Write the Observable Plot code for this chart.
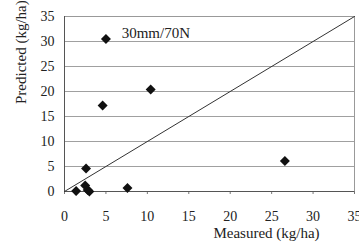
<!DOCTYPE html>
<html>
<head>
<meta charset="utf-8">
<script src="https://cdn.jsdelivr.net/npm/d3@7"></script>
<script src="https://cdn.jsdelivr.net/npm/@observablehq/plot@0.6"></script>
<style>
  html, body { margin: 0; padding: 0; background: #fff; }
  svg, svg text { font-family: "Liberation Serif", "Times New Roman", serif !important; }
</style>
</head>
<body>
<div id="chart"></div>
<script>
const measured  = [5.0, 10.4, 4.6, 2.6, 1.4, 2.5, 2.8, 3.0, 7.6, 26.6];
const predicted = [30.5, 20.4, 17.2, 4.6, 0.1, 1.2, 0.3, 0.0, 0.7, 6.1];
const ticks = [0, 5, 10, 15, 20, 25, 30, 35];
const annotation = "30mm/70N";
const xLabel = "Measured (kg/ha)";
const yLabel = "Predicted (kg/ha)";
const oneToOne = [{x: 0, y: 0}, {x: 35, y: 35}];

const points = measured.map((m, i) => ({x: m, y: predicted[i]}));

const chart = Plot.plot({
  width: 359,
  height: 244,
  marginLeft: 64,
  marginRight: 5,
  marginTop: 16,
  marginBottom: 53,
  style: {fontFamily: "Liberation Serif", fontSize: "14px", color: "#222", background: "#fff"},
  x: {domain: [0, 35]},
  y: {domain: [0, 35]},
  marks: [
    Plot.gridY(ticks, {stroke: "#888", strokeOpacity: 0.8}),
    Plot.frame({stroke: "#999"}),
    Plot.axisX(ticks, {tickSize: 3, tickPadding: 17, fontSize: 14, label: null, stroke: "#777"}),
    Plot.axisY(ticks, {tickSize: 0, tickPadding: 10, fontSize: 14, label: null}),
    Plot.ruleY([0], {stroke: "#555"}),
    Plot.ruleX([0], {stroke: "#555"}),
    Plot.line(oneToOne, {x: "x", y: "y", stroke: "#333", strokeWidth: 1}),
    Plot.dot(points, {x: "x", y: "y", symbol: "diamond2", r: 4.5, fill: "#111", stroke: "none"}),
    Plot.text([annotation], {x: 6.9, y: 31.7, text: d => d, textAnchor: "start", fontSize: 15}),
    Plot.text([xLabel], {frameAnchor: "bottom", dx: 57, dy: 46, text: d => d, fontSize: 15, letterSpacing: "0.6px"}),
    Plot.text([yLabel], {frameAnchor: "left", dx: -43, text: d => d, rotate: -90, fontSize: 15, letterSpacing: "0.3px"})
  ]
});
document.getElementById("chart").appendChild(chart);
</script>
</body>
</html>
